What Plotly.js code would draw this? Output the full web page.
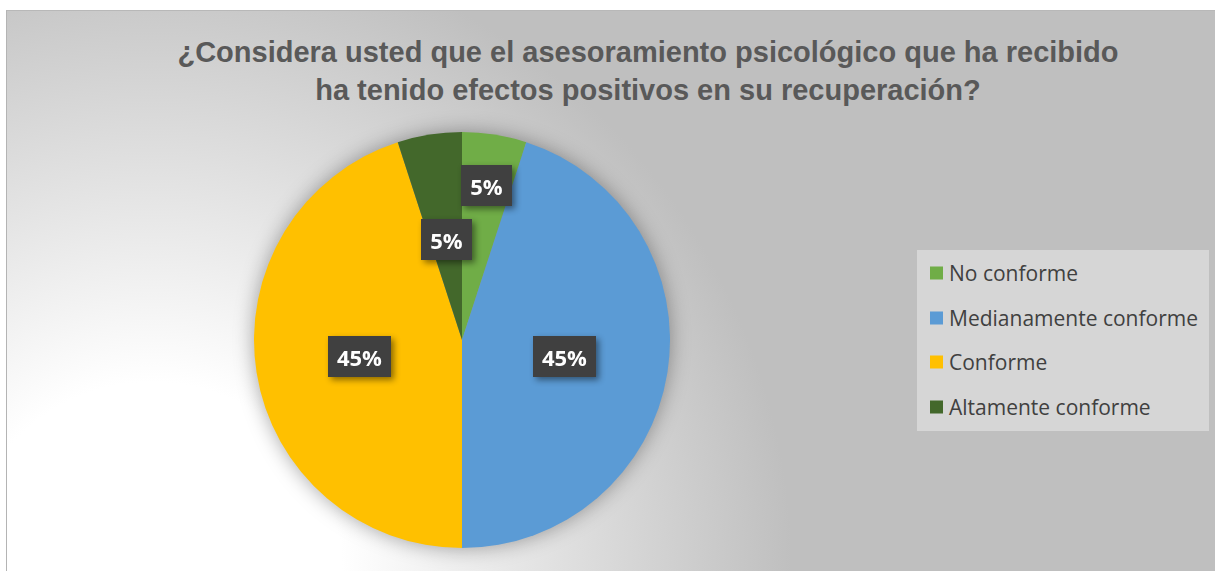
<!DOCTYPE html>
<html>
<head>
<meta charset="utf-8">
<script src="https://cdn.plot.ly/plotly-3.0.1.min.js"></script>
<style>
  html, body { margin: 0; padding: 0; background: #ffffff; }
  #frame {
    position: absolute; left: 6px; top: 10px; width: 1208px; height: 561px;
    border-left: 1px solid #b4b4b4; border-top: 1px solid #b8b8b8;
    background: radial-gradient(circle at 145px 561px, #ffffff 0px, #ffffff 190px, #bfbfbf 640px);
  }
  #chart { position: absolute; left: 0; top: 0; width: 1215px; height: 571px; }
  .pielayer { filter: drop-shadow(0px 0px 10px rgba(0,0,0,0.35)); }
  g.annotation.lbl { filter: drop-shadow(3px 3px 3px rgba(0,0,0,0.45)); }
</style>
</head>
<body>
<div id="frame"></div>
<div id="chart"></div>
<script>
// ---- data ----
const categories = ["No conforme", "Medianamente conforme", "Conforme", "Altamente conforme"];
const values = [1, 9, 9, 1];
const colors = ["#70AD47", "#5B9BD5", "#FFC000", "#43682B"];
const titleText = "¿Considera usted que el asesoramiento psicológico que ha recibido<br>ha tenido efectos positivos en su recuperación?";

// ---- layout geometry (styles) ----
const W = 1215, H = 571;
const cx = 462, cy = 340, R = 208;
const labelRadiusFrac = [0.75, 0.5, 0.5, 0.49];
const labelBoxW = [51, 63, 63, 51];

const total = values.reduce((a, b) => a + b, 0);
const pct = values.map(v => Math.round(v / total * 100) + "%");

const annotations = [];
let cum = 0;
values.forEach((v, i) => {
  const mid = (cum + v / 2) / total * 2 * Math.PI; // clockwise from 12 o'clock
  cum += v;
  const r = R * labelRadiusFrac[i];
  const px = cx + r * Math.sin(mid);
  const py = cy - r * Math.cos(mid);
  annotations.push({
    x: px / W, y: 1 - py / H, xref: "paper", yref: "paper",
    xanchor: "center", yanchor: "middle",
    text: "<b>" + pct[i] + "</b>", showarrow: false,
    font: { family: "Open Sans, Noto Sans, sans-serif", size: 22, color: "#ffffff" },
    bgcolor: "#404040", borderpad: 0, borderwidth: 0,
    width: labelBoxW[i], height: 41
  });
});

// ---- custom legend ----
const legX0 = 917, legX1 = 1209, legY0 = 250, legY1 = 431;
const legItemY = [273, 318, 362, 407];
const shapes = [{
  type: "rect", xref: "paper", yref: "paper",
  x0: legX0 / W, x1: legX1 / W, y0: 1 - legY1 / H, y1: 1 - legY0 / H,
  fillcolor: "#d6d6d6", line: { width: 0 }, layer: "below"
}];
categories.forEach((c, i) => {
  const yc = legItemY[i];
  shapes.push({
    type: "rect", xref: "paper", yref: "paper",
    x0: 930 / W, x1: 943 / W, y0: 1 - (yc + 6.5) / H, y1: 1 - (yc - 6.5) / H,
    fillcolor: colors[i], line: { width: 0 }
  });
  annotations.push({
    x: 947 / W, y: 1 - yc / H, xref: "paper", yref: "paper",
    xanchor: "left", yanchor: "middle", showarrow: false,
    text: c, font: { family: "Open Sans, Noto Sans, sans-serif", size: 21, color: "#404040" }
  });
});

const trace = {
  type: "pie",
  labels: categories,
  values: values,
  marker: { colors: colors, line: { width: 0 } },
  sort: false,
  direction: "clockwise",
  rotation: 0,
  textinfo: "none",
  hoverinfo: "label+percent",
  showlegend: false,
  domain: { x: [(cx - R) / W, (cx + R) / W], y: [(H - cy - R) / H, (H - cy + R) / H] }
};

const layout = {
  width: W, height: H,
  margin: { l: 0, r: 0, t: 0, b: 0 },
  paper_bgcolor: "rgba(0,0,0,0)",
  plot_bgcolor: "rgba(0,0,0,0)",
  showlegend: false,
  title: {
    text: "<b>" + titleText + "</b>",
    x: 648 / W, xanchor: "center", xref: "paper",
    y: 1 - 62 / H, yanchor: "top", yref: "paper",
    font: { family: "Liberation Sans, Arial, sans-serif", size: 29, color: "#595959" }
  },
  annotations: annotations,
  shapes: shapes
};

Plotly.newPlot("chart", [trace], layout, { displayModeBar: false, staticPlot: true }).then(() => {
  document.querySelectorAll("g.annotation").forEach((g, i) => {
    if (i < values.length) g.classList.add("lbl");
  });
});
</script>
</body>
</html>
